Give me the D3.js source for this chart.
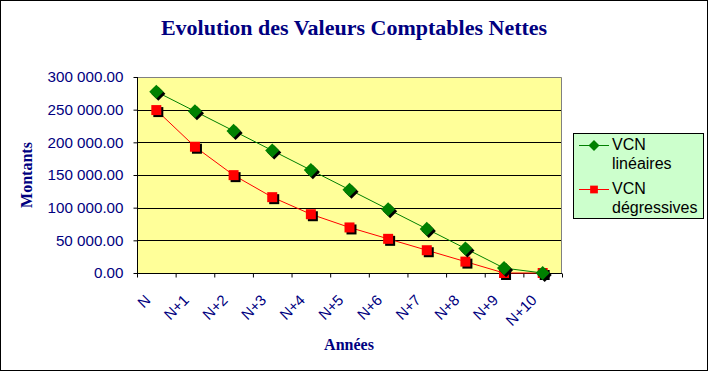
<!DOCTYPE html>
<html><head><meta charset="utf-8">
<script src="https://cdn.jsdelivr.net/npm/d3@7"></script>
<style>body{margin:0;background:#fff}svg{display:block}</style>
</head><body><svg id="c" width="709" height="372"></svg>
<script>
const categories = ["N","N+1","N+2","N+3","N+4","N+5","N+6","N+7","N+8","N+9","N+10"];
const lineaires = [277500,247500,217500,187500,157500,127500,97500,67500,37500,7500,0];
const degressives = [249375,193266,149781,116080,89962,69721,52291,34861,17430,0,0];
const yTicks = [0,50000,100000,150000,200000,250000,300000];
const seriesNames = [["VCN","linéaires"],["VCN","dégressives"]];
const title = "Evolution des Valeurs Comptables Nettes";
const yTitle = "Montants", xTitle = "Années";

const navy = "#000080";
const svg = d3.select("#c");
svg.append("rect").attr("x",0.5).attr("y",0.5).attr("width",707).attr("height",370)
  .attr("fill","#fff").attr("stroke","#000");

const L=137,R=562,T=77,B=273;
const x = d3.scaleBand().domain(categories).range([L,R]).paddingInner(0).paddingOuter(0);
const xb = d3.scaleLinear().domain([0,categories.length]).range([L,R]);
const y = d3.scaleLinear().domain([0,300000]).range([B,T]);
const cx = d => x(d)+x.bandwidth()/2;

svg.append("rect").attr("x",L).attr("y",T).attr("width",R-L).attr("height",B-T).attr("fill","#FFFF99");
svg.append("g").selectAll("line").data(yTicks.filter(v=>v>0&&v<300000)).join("line")
  .attr("x1",L).attr("x2",R).attr("y1",d=>Math.round(y(d))+0.5).attr("y2",d=>Math.round(y(d))+0.5)
  .attr("stroke","#000");
svg.append("path").attr("d",`M${L},${T+0.5}H${R-0.5}V${B}`).attr("fill","none").attr("stroke","#808080");

const loc = d3.formatLocale({decimal:".",thousands:" ",grouping:[3],currency:["",""]});
const fmt = loc.format(",.2f");
const ya = svg.append("g").attr("transform",`translate(${L+0.5},0)`)
  .call(d3.axisLeft(y).tickValues(yTicks).tickSize(4).tickPadding(10).tickFormat(fmt));
ya.select(".domain").attr("d",`M0,${T}V${B+0.5}`).attr("stroke","#000");
ya.selectAll(".tick line").attr("stroke","#000");
ya.selectAll(".tick text").attr("fill",navy).attr("font-family","'Liberation Sans',Arial,sans-serif").attr("font-size",15.2);

const xa = svg.append("g").attr("transform",`translate(0,${B+0.5})`)
  .call(d3.axisBottom(xb).tickValues(d3.range(categories.length+1)).tickSize(4).tickFormat(""));
xa.select(".domain").attr("d",`M${L},0H${R}`).attr("stroke","#000");
xa.selectAll(".tick line").attr("stroke","#000");

svg.append("g").selectAll("text").data(categories).join("text")
  .attr("transform",d=>`translate(${cx(d)-5},${B+28}) rotate(-45)`)
  .attr("text-anchor","end").attr("fill",navy)
  .attr("font-family","'Liberation Sans',Arial,sans-serif").attr("font-size",15).text(d=>d);

svg.append("text").attr("x",354).attr("y",35).attr("text-anchor","middle").attr("fill",navy)
  .attr("font-family","'Liberation Serif','Times New Roman',serif").attr("font-weight","bold").attr("font-size",22).text(title);
svg.append("text").attr("transform","translate(32,175) rotate(-90)").attr("text-anchor","middle").attr("fill",navy)
  .attr("font-family","'Liberation Serif','Times New Roman',serif").attr("font-weight","bold").attr("font-size",16).text(yTitle);
svg.append("text").attr("x",349).attr("y",350).attr("text-anchor","middle").attr("fill",navy)
  .attr("font-family","'Liberation Serif','Times New Roman',serif").attr("font-weight","bold").attr("font-size",16).text(xTitle);

const line = d3.line().x((d,i)=>cx(categories[i])).y(d=>y(d));
svg.append("path").datum(degressives).attr("d",line).attr("fill","none").attr("stroke","#FF0000").attr("stroke-width",1);
svg.append("path").datum(lineaires).attr("d",line).attr("fill","none").attr("stroke","#008000").attr("stroke-width",1);

const sq = d3.symbol().type(d3.symbolSquare).size(100);
function markers(data, color, rot){
  const g = svg.append("g");
  data.forEach((v,i)=>{
    const px=cx(categories[i]), py=y(v);
    g.append("path").attr("d",sq()).attr("fill","#000").attr("transform",`translate(${px+2},${py+2}) rotate(${rot})`);
    g.append("path").attr("d",sq()).attr("fill",color).attr("transform",`translate(${px},${py}) rotate(${rot})`);
  });
}
markers(degressives,"#FF0000",0);
markers(lineaires,"#008000",45);

const lg = svg.append("g");
lg.append("rect").attr("x",573.5).attr("y",133.5).attr("width",130).attr("height",85).attr("fill","#CCFFCC").attr("stroke","#000");
const lsym = d3.symbol().type(d3.symbolSquare).size(60);
[["#008000",45,145],["#FF0000",0,189]].forEach((e,i)=>{
  lg.append("line").attr("x1",579).attr("x2",609).attr("y1",e[2]+0.5).attr("y2",e[2]+0.5).attr("stroke",e[0]);
  lg.append("path").attr("d",lsym()).attr("fill",e[0]).attr("transform",`translate(594,${e[2]+0.5}) rotate(${e[1]})`);
  seriesNames[i].forEach((t,j)=>{
    lg.append("text").attr("x",612).attr("y",e[2]+5+j*19).attr("fill","#000")
      .attr("font-family","'Liberation Sans',Arial,sans-serif").attr("font-size",16).text(t);
  });
});
</script></body></html>
